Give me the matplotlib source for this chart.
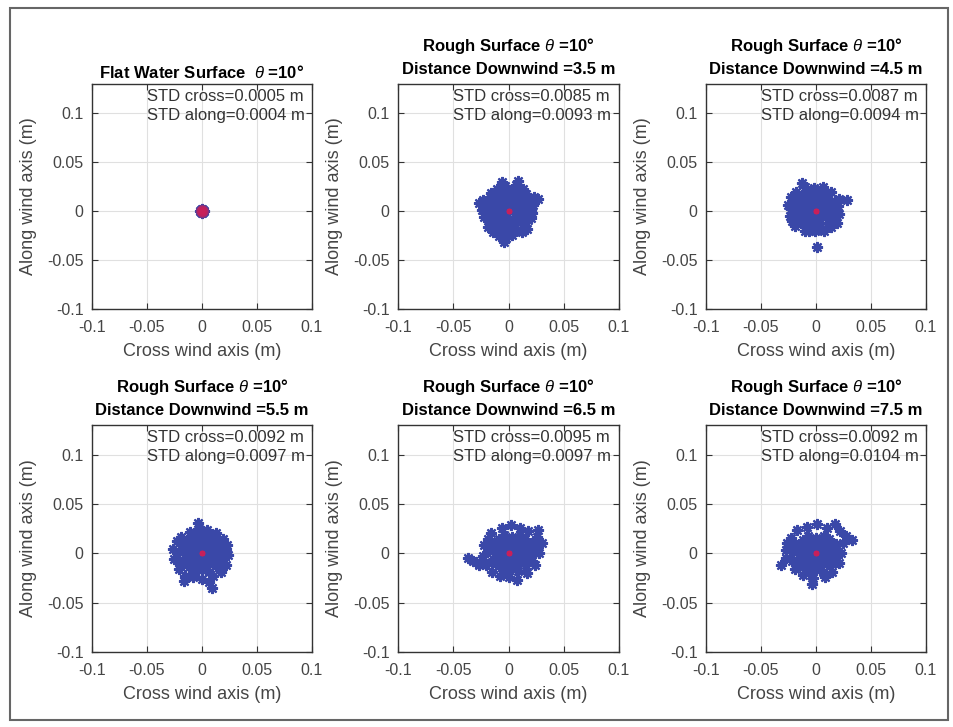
import matplotlib
matplotlib.use("Agg")
import matplotlib.pyplot as plt
from matplotlib.patches import Rectangle

plt.rcParams['font.family'] = ['Liberation Sans', 'DejaVu Sans']
plt.rcParams['mathtext.fontset'] = 'custom'
plt.rcParams['mathtext.it'] = 'Liberation Sans:italic'
plt.rcParams['mathtext.rm'] = 'Liberation Sans'

# --- data (positions in mm, converted to m below) ---
titles = [
    'Flat Water Surface  $\\theta$ =10°',
    'Rough Surface $\\theta$ =10°\nDistance Downwind =3.5 m',
    'Rough Surface $\\theta$ =10°\nDistance Downwind =4.5 m',
    'Rough Surface $\\theta$ =10°\nDistance Downwind =5.5 m',
    'Rough Surface $\\theta$ =10°\nDistance Downwind =6.5 m',
    'Rough Surface $\\theta$ =10°\nDistance Downwind =7.5 m',
]
std_cross = [0.0005, 0.0085, 0.0087, 0.0092, 0.0095, 0.0092]
std_along = [0.0004, 0.0093, 0.0094, 0.0097, 0.0097, 0.0104]

flat_pts = [(0, 0), (1, 1), (-1, 1), (1, -1), (-1, -1), (2, 0), (-2, 0), (0, 2), (0, -2)]

pts_35 = [(0, 0), (5, 1), (-5, -1), (1, 6), (-1, -6), (6, 6), (-6, 6), (6, -6), (-6, -5),
          (10, 1), (-10, 0), (0, 11), (1, -11), (11, 8), (-11, 7), (10, -8), (-10, -9),
          (5, 12), (-5, 12), (5, -13), (-5, -12), (15, 3), (-15, 2), (15, -4), (-15, -5),
          (0, 16), (0, -17), (12, 14), (-12, 13), (13, -13), (-12, -14), (18, 9), (-18, 8),
          (18, -9), (-18, -10), (7, 18), (-7, 18), (6, -19), (-6, -19), (20, 0), (-21, 1),
          (-6, 30), (-3, 26), (9, 31), (7, 27), (13, 23), (-10, 23), (-16, 19), (27, 12),
          (23, 15), (22, 6), (20, -7), (17, -18), (12, -21), (-4, -32), (-2, -27), (-9, -25),
          (-19, -16), (-14, -21), (-24, 1), (-27, 8), (-23, 11), (-22, -6), (3, -24),
          (-2, 22), (2, 22), (16, 18), (-20, -2), (21, -2), (0, -23), (-17, 15)]

pts_45 = [(-2, 2), (3, 3), (-7, 1), (-1, 8), (-3, -4), (4, 9), (-8, 8), (4, -4), (-8, -4),
          (8, 3), (-12, 2), (-2, 13), (-2, -9), (9, 10), (-13, 9), (9, -6), (-13, -6),
          (3, 15), (-7, 15), (3, -12), (-7, -12), (14, 5), (-17, 4), (13, -3), (-17, -3),
          (-2, 19), (-2, -15), (10, 16), (-14, 15), (11, -12), (-14, -12), (17, 10),
          (-20, 10), (17, -7), (-20, -8), (5, 21), (-9, 21), (4, -18), (-8, -17), (19, 1),
          (-23, 2), (-2, 24), (6, 25), (-10, 25), (14, 20), (-18, 20), (21, 12), (21, -3),
          (19, -12), (14, -16), (-1, -20), (7, -20), (-10, -20), (-19, -15), (-24, -5),
          (-25, 6), (-23, 14), (-13, 29), (28, 11), (1, -37), (-6, -20), (20, 5), (-22, -10)]

pts_55 = [(0, 0), (5, 1), (-5, -1), (1, 6), (-1, -6), (6, 6), (-6, 6), (6, -6), (-6, -5),
          (10, 1), (-10, 0), (0, 11), (1, -11), (11, 8), (-11, 7), (10, -8), (-10, -9),
          (5, 12), (-5, 12), (5, -13), (-5, -12), (15, 3), (-15, 2), (15, -4), (-15, -5),
          (0, 16), (0, -17), (12, 14), (-12, 13), (13, -13), (-12, -14), (18, 9), (-18, 8),
          (18, -9), (-18, -10), (7, 18), (-7, 18), (6, -19), (-6, -19), (20, 0), (-21, 1),
          (-4, 31), (-3, 25), (5, 24), (-11, 22), (13, 21), (-19, 17), (19, 15), (23, 8),
          (24, -2), (22, -12), (17, -19), (10, -23), (9, -35), (6, -29), (0, -26), (-8, -24),
          (-16, -28), (-15, -23), (-21, -16), (-25, -6), (-26, 4), (-23, 12), (-21, -9),
          (22, 3)]

pts_65 = [(3, 1), (8, 2), (-2, 0), (4, 7), (2, -5), (9, 7), (-3, 7), (9, -5), (-3, -4),
          (13, 2), (-7, 1), (3, 12), (4, -10), (14, 9), (-8, 8), (13, -7), (-7, -8),
          (8, 13), (-2, 13), (8, -12), (-2, -11), (18, 4), (-12, 3), (18, -3), (-12, -4),
          (3, 17), (3, -16), (15, 15), (-9, 14), (16, -12), (-9, -13), (21, 10), (-15, 9),
          (21, -8), (-15, -9), (10, 19), (-4, 19), (9, -18), (-3, -18), (23, 1), (-18, 2),
          (2, 29), (-6, 26), (10, 26), (-16, 21), (18, 23), (27, 24), (26, 17), (30, 10),
          (28, 0), (24, -12), (17, -20), (8, -27), (0, -24), (-8, -23), (-15, -19),
          (-20, -12), (-23, -3), (-22, 8), (-37, -5), (-32, -8), (-27, -12), (-22, -10),
          (-29, -9), (-19, 15), (25, 5)]

pts_75 = [(0, 0), (5, 1), (-5, -1), (1, 6), (-1, -6), (6, 6), (-6, 6), (6, -6), (-6, -5),
          (10, 1), (-10, 0), (0, 11), (1, -11), (11, 8), (-11, 7), (10, -8), (-10, -9),
          (5, 12), (-5, 12), (5, -13), (-5, -12), (15, 3), (-15, 2), (15, -4), (-15, -5),
          (0, 16), (0, -17), (12, 14), (-12, 13), (13, -13), (-12, -14), (18, 9), (-18, 8),
          (18, -9), (-18, -10), (7, 18), (-7, 18), (6, -19), (-6, -19), (20, 0), (-21, 1),
          (1, 30), (-8, 27), (17, 30), (10, 26), (-17, 24), (22, 23), (27, 18), (33, 13),
          (25, 10), (23, 0), (21, -10), (15, -19), (8, -24), (-4, -31), (-3, -25), (-12, -22),
          (-19, -16), (-32, -12), (-27, -5), (-26, 10), (-23, 16), (29, 15), (-27, 3),
          (-22, -8), (-23, 5)]

clouds = [flat_pts, pts_35, pts_45, pts_55, pts_65, pts_75]
center_x = [0, 0, 0, 0, 0, 0]
center_y = [0, 0, 0, 0, 0, 0]

ticks = [-0.1, -0.05, 0, 0.05, 0.1]
tick_labels = ['-0.1', '-0.05', '0', '0.05', '0.1']

# axes boxes in pixels: left, top, right, bottom
W, H = 954, 727
cols = [(92, 312), (398, 619), (706, 926)]
rows = [(84, 309), (425, 652)]

blue = '#3a48a8'
red = '#c8205a'
grey = '#454545'

fig = plt.figure(figsize=(W / 100, H / 100), dpi=100)
fig.patches.append(Rectangle((10 / W, 1 - 720 / H), 938 / W, 712 / H,
                             transform=fig.transFigure, fill=False,
                             edgecolor='#666666', linewidth=1.5))

for i in range(6):
    r, c = divmod(i, 3)
    l, rt = cols[c]
    t, b = rows[r]
    ax = fig.add_axes([l / W, 1 - b / H, (rt - l) / W, (b - t) / H])

    xs = [p[0] / 1000 for p in clouds[i]]
    ys = [p[1] / 1000 for p in clouds[i]]
    ax.plot(xs, ys, linestyle='none', marker=(8, 2, 0), markersize=8,
            markeredgewidth=1.6, color=blue, zorder=3)
    if i == 0:
        ax.plot(xs, ys, linestyle='none', marker='o', markersize=7,
                color=red, alpha=0.4, markeredgewidth=0, zorder=4)
    ax.plot(center_x[i], center_y[i], linestyle='none', marker=(8, 2, 0),
            markersize=4, markeredgewidth=1.4, color=red, zorder=5)

    ax.set_xlim(-0.1, 0.1)
    ax.set_ylim(-0.1, 0.13)
    ax.set_xticks(ticks)
    ax.set_xticklabels(tick_labels)
    ax.set_yticks(ticks)
    ax.set_yticklabels(tick_labels)
    ax.grid(True, color='#e0e0e0', linewidth=0.8)
    ax.set_axisbelow(True)
    ax.tick_params(direction='in', length=4, width=0.8, top=True, right=True,
                   labelsize=11.5, labelcolor=grey, color='#333333')
    ax.tick_params(axis='x', pad=8)
    ax.tick_params(axis='y', pad=6)
    for s in ax.spines.values():
        s.set_color('#333333')
        s.set_linewidth(1.0)

    ax.set_xlabel('Cross wind axis (m)', fontsize=13, color=grey, labelpad=6)
    ax.set_ylabel('Along wind axis (m)', fontsize=13, color=grey, labelpad=7)
    if '\n' in titles[i]:
        ax.set_title(titles[i], fontsize=12, fontweight='bold', pad=7.5, linespacing=1.5)
    else:
        ax.set_title(titles[i], fontsize=12, fontweight='bold', pad=4)

    ax.text(-0.05, 0.117, 'STD cross=%.4f m' % std_cross[i], fontsize=12,
            color='#333333', va='center', ha='left')
    ax.text(-0.05, 0.098, 'STD along=%.4f m' % std_along[i], fontsize=12,
            color='#333333', va='center', ha='left')

fig.savefig('out.png', dpi=100)
